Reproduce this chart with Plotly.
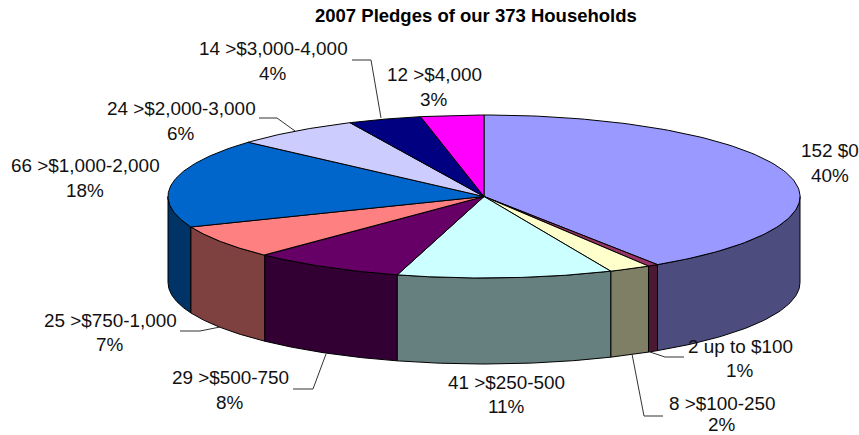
import numpy as np
import plotly.graph_objects as go

# Data
counts = [152, 2, 8, 41, 29, 25, 66, 24, 14, 12]
ranges = ["$0", "up to $100", ">$100-250", ">$250-500", ">$500-750",
          ">$750-1,000", ">$1,000-2,000", ">$2,000-3,000", ">$3,000-4,000", ">$4,000"]
percents = [40, 1, 2, 11, 8, 7, 18, 6, 4, 3]
top_colors = ["#9999FF", "#993366", "#FFFFCC", "#CCFFFF", "#660066",
              "#FF8080", "#0066CC", "#CCCCFF", "#000080", "#FF00FF"]
side_colors = ["#4C4C7F", "#4C1933", "#7F7F66", "#667F7F", "#330033",
               "#7F4040", "#003366", "#666680", "#000040", "#7F007F"]
title = "2007 Pledges of our 373 Households"

# Layout of the drawing (pixels)
CX, CY, RX, RY, DEPTH = 484, 196.5, 316, 81.5, 86
label_pos = [(830, 150, 175), (740, 346, 370), (722, 403, 424), (506, 382, 406), (230, 377, 402),
             (110, 320, 344), (85, 165, 190), (181, 108, 133), (273, 48, 73), (434, 74, 99)]
leaders = {
    1: [(684, 357), (665, 357), (650, 352)],
    2: [(663, 416), (644, 416), (632, 354)],
    4: [(293, 389), (313, 389), (326, 354)],
    5: [(180, 331), (200, 331), (220, 327)],
    7: [(259, 118), (277, 118), (295, 131)],
    8: [(352, 60), (371, 60), (381, 118)],
}


def rim(a0, a1, n=60):
    t = np.radians(np.linspace(a0, a1, n))
    return CX + RX * np.sin(t), CY - RY * np.cos(t)


fig = go.Figure()
edges = np.concatenate([[0], np.cumsum(counts)]) / sum(counts) * 360
line = dict(color="black", width=1)

# Side walls (only the front half of the rim, from the two ends toward the middle)
order = sorted(range(len(counts)), key=lambda i: -abs(180 - (edges[i] + edges[i + 1]) / 2))
for i in order:
    a0, a1 = max(edges[i], 90), min(edges[i + 1], 270)
    if a1 <= a0:
        continue
    x, y = rim(a0, a1)
    xs = np.concatenate([x, x[::-1], x[:1]])
    ys = np.concatenate([y, y[::-1] + DEPTH, y[:1]])
    fig.add_trace(go.Scatter(x=xs, y=ys, mode="lines", fill="toself", fillcolor=side_colors[i],
                             line=line, hoverinfo="skip", showlegend=False))

# Top faces
for i in range(len(counts)):
    x, y = rim(edges[i], edges[i + 1], 120)
    fig.add_trace(go.Scatter(x=np.concatenate([[CX], x, [CX]]), y=np.concatenate([[CY], y, [CY]]),
                             mode="lines", fill="toself", fillcolor=top_colors[i], line=line,
                             name=ranges[i], hoverinfo="name", showlegend=False))

# Leader lines
for pts in leaders.values():
    fig.add_trace(go.Scatter(x=[p[0] for p in pts], y=[p[1] for p in pts], mode="lines",
                             line=dict(color="#333333", width=1), hoverinfo="skip", showlegend=False))

FONT = "Liberation Sans, Arial, sans-serif"
for i, (lx, y1, y2) in enumerate(label_pos):
    for txt, yy in ((f"{counts[i]} {ranges[i]}", y1), (f"{percents[i]}%", y2)):
        fig.add_annotation(x=lx, y=yy, text=txt, showarrow=False, xanchor="center", yanchor="middle",
                           font=dict(family=FONT, size=18.9, color="#111111"))
fig.add_annotation(x=475.5, y=15, text=f"<b>{title}</b>", showarrow=False, xanchor="center",
                   yanchor="middle", font=dict(family=FONT, size=18.5, color="black"))

fig.update_layout(width=859, height=435, margin=dict(l=0, r=0, t=0, b=0),
                  paper_bgcolor="white", plot_bgcolor="white",
                  xaxis=dict(range=[0, 859], visible=False),
                  yaxis=dict(range=[435, 0], visible=False))
fig.write_html("out.html", config={"displayModeBar": False},
               post_script="document.body.style.margin='0';document.body.style.overflow='hidden';")
